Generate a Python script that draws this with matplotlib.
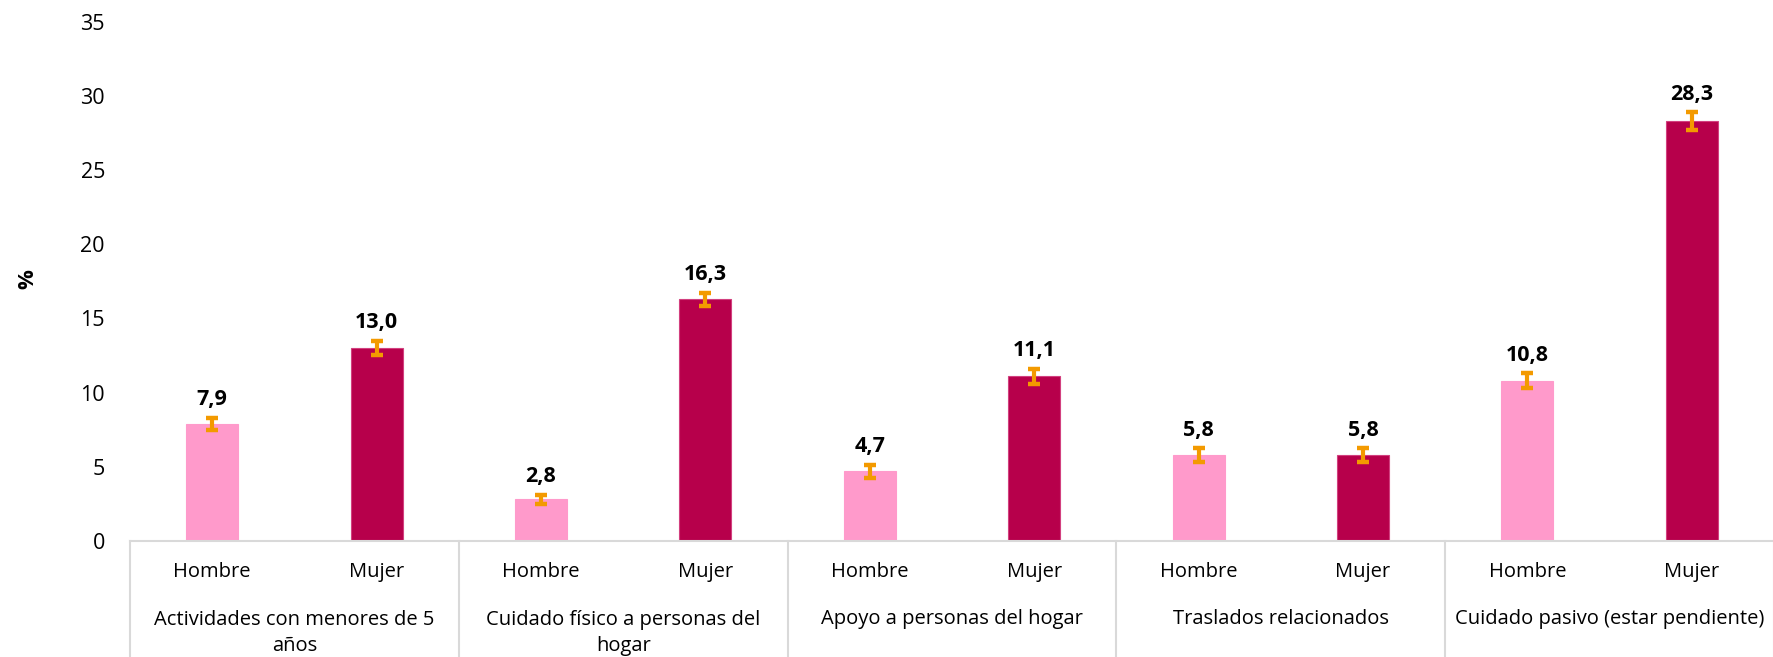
import numpy as np
import matplotlib
matplotlib.use('Agg')
import matplotlib.pyplot as plt

plt.rcParams['font.family'] = ['Open Sans', 'DejaVu Sans']

grupos = ['Actividades con menores de 5\naños',
          'Cuidado físico a personas del\nhogar',
          'Apoyo a personas del hogar',
          'Traslados relacionados',
          'Cuidado pasivo (estar pendiente)']
sexos = ['Hombre', 'Mujer']
valores = [7.9, 13.0, 2.8, 16.3, 4.7, 11.1, 5.8, 5.8, 10.8, 28.3]
errores = [0.4, 0.48, 0.3, 0.44, 0.45, 0.5, 0.46, 0.46, 0.5, 0.6]
colores = ['#FF9ACB', '#B7004B']
bordes = ['#FF9ACB', '#D2407F']

fig = plt.figure(figsize=(17.74, 6.57), dpi=100)
ax = fig.add_axes([130/1774, 116/657, 1644/1774, 519.4/657])

x = np.arange(len(valores))
for i, v in enumerate(valores):
    s = i % 2
    ax.bar(x[i], v, width=0.316, color=colores[s], edgecolor=bordes[s], lw=0.8, zorder=2)
ax.errorbar(x, valores, yerr=errores, fmt='none', ecolor='#F39A00',
            elinewidth=3, capsize=4.5, capthick=3.2, zorder=3)

for xi, v, e in zip(x, valores, errores):
    ax.annotate(f'{v:.1f}'.replace('.', ','), (xi, v + e), xytext=(0, 13),
                textcoords='offset points', ha='center', va='center',
                fontsize=15.5, fontweight='bold')

ax.set_xlim(-0.5, len(valores) - 0.5)
ax.set_ylim(0, 35)
ax.set_yticks(range(0, 36, 5))
ax.tick_params(axis='y', length=0, pad=18, labelsize=15.5)
ax.set_xticks([])
for sp in ['left', 'top', 'right']:
    ax.spines[sp].set_visible(False)
ax.spines['bottom'].set_color('#d9d9d9')
ax.spines['bottom'].set_linewidth(1.5)

tr = ax.get_xaxis_transform()
for k in range(len(grupos) + 1):
    xs = k * 2 - 0.5
    ax.plot([xs, xs], [0, -0.25], transform=tr, color='#d9d9d9', lw=1.5, clip_on=False)

for xi in x:
    ax.text(xi, -0.06, sexos[xi % 2], transform=tr, ha='center', va='center', fontsize=14.5)
for k, g in enumerate(grupos):
    if '\n' in g:
        ax.text(2 * k + 0.5, -0.177, g, transform=tr, ha='center', va='center',
                fontsize=14.5, linespacing=1.35)
    else:
        ax.text(2 * k + 0.5, -0.15, g, transform=tr, ha='center', va='center', fontsize=14.5)

fig.text(28/1774, 1 - 279/657, '%', rotation=90, ha='center', va='center',
         fontsize=16, fontweight='bold')

fig.savefig('out.png', dpi=100)
